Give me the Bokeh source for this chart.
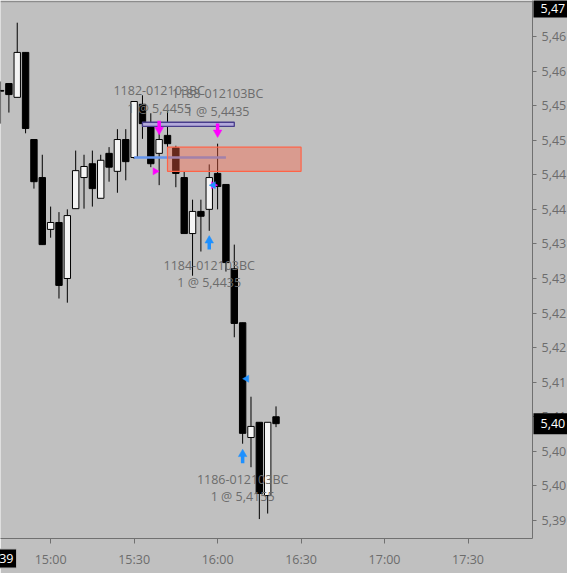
import numpy as np
import pandas as pd
from bokeh.plotting import figure
from bokeh.models import (ColumnDataSource, FixedTicker, DatetimeTickFormatter,
                          CustomJSTickFormatter, Label, Span, Range1d)
from bokeh.core.properties import value
from bokeh.embed import file_html
from bokeh.resources import INLINE

DAY = "2021-03-01 "

# ---------------- data ----------------
bar_times = ["14:42", "14:45", "14:48", "14:51", "14:54", "14:57", "15:00", "15:03",
             "15:06", "15:09", "15:12", "15:15", "15:18", "15:21", "15:24", "15:27",
             "15:30", "15:33", "15:36", "15:39", "15:42", "15:45", "15:48", "15:51",
             "15:54", "15:57", "16:00", "16:03", "16:06", "16:09", "16:12", "16:15",
             "16:18", "16:21"]
opens = [5.4572, 5.4582, 5.4562, 5.4627, 5.4501, 5.4446, 5.4371, 5.4381, 5.4300, 5.4401,
         5.4446, 5.4466, 5.4416, 5.4481, 5.4455, 5.4501, 5.4475, 5.4552, 5.4520, 5.4481,
         5.4507, 5.4489, 5.4446, 5.4365, 5.4397, 5.4400, 5.4452, 5.4436, 5.4314, 5.4236,
         5.4070, 5.4092, 5.3986, 5.4100]
highs = [5.4585, 5.4582, 5.4670, 5.4627, 5.4501, 5.4479, 5.4404, 5.4396, 5.4400, 5.4485,
         5.4479, 5.4485, 5.4479, 5.4490, 5.4516, 5.4516, 5.4556, 5.4565, 5.4539, 5.4513,
         5.4542, 5.4492, 5.4455, 5.4414, 5.4414, 5.4465, 5.4495, 5.4436, 5.4349, 5.4236,
         5.4129, 5.4092, 5.4092, 5.4115]
lows = [5.4524, 5.4540, 5.4562, 5.4510, 5.4430, 5.4349, 5.4359, 5.4271, 5.4265, 5.4401,
        5.4401, 5.4404, 5.4416, 5.4440, 5.4424, 5.4442, 5.4473, 5.4502, 5.4461, 5.4435,
        5.4490, 5.4432, 5.4365, 5.4304, 5.4339, 5.4369, 5.4400, 5.4310, 5.4215, 5.4061,
        5.4027, 5.3952, 5.3960, 5.4085]
closes = [5.4571, 5.4566, 5.4627, 5.4517, 5.4440, 5.4349, 5.4381, 5.4290, 5.4391, 5.4456,
          5.4462, 5.4430, 5.4471, 5.4461, 5.4501, 5.4469, 5.4556, 5.4524, 5.4466, 5.4501,
          5.4495, 5.4452, 5.4365, 5.4397, 5.4390, 5.4446, 5.4433, 5.4323, 5.4235, 5.4076,
          5.4086, 5.3989, 5.4092, 5.4090]

# trades
trade_ids = ["1182-012103BC", "1188-012103BC", "1184-012103BC", "1186-012103BC"]
trade_bars = ["15:39", "16:00", "15:57", "16:09"]
trade_sides = ["sell", "sell", "buy", "buy"]
trade_qty = [1, 1, 1, 1]
fill_prices = [5.4455, 5.4435, 5.4435, 5.4155]
signal_prices = [5.4508, 5.4504, 5.4362, 5.4053]

# zone / levels
zone_times = ["15:42", "16:30"]
zone_prices = [5.4455, 5.4490]
band_times = ["15:33", "16:06"]
band_prices = [5.4520, 5.4526]
line_times = ["15:30", "16:03"]
line_price = 5.4475

# tags
last_price_text = "5,40"
last_price = 5.4090
high_tag_text = "5,47"
high_tag_price = 5.4700
time_tag_text = "39"

x_tick_labels = ["15:00", "15:30", "16:00", "16:30", "17:00", "17:30"]
y_ticks = [5.395, 5.400, 5.405, 5.410, 5.415, 5.420, 5.425, 5.430, 5.435, 5.440,
           5.445, 5.450, 5.455, 5.460, 5.465]
y_tick_labels = ["5,39", "5,40", "5,40", "5,41", "5,41", "5,42", "5,42", "5,43", "5,43",
                 "5,44", "5,44", "5,45", "5,45", "5,46", "5,46"]

# ---------------- layout ----------------
BG = "#c0c0c0"
FONT = "Open Sans"
FS = "12.5px"
TXT = "#6c6c6c"
FRAME_W, FRAME_H = 532, 538
X0 = pd.Timestamp(DAY + "14:41:59")
X1 = pd.Timestamp(DAY + "17:53:10")
Y0, Y1 = 5.39239, 5.47021
ppx = (Y1 - Y0) / FRAME_H                       # price per pixel
msx = (X1 - X0).total_seconds() * 1000 / FRAME_W  # ms per pixel


def ts(s):
    return pd.Timestamp(DAY + s)


def ms(t):
    return t.value / 1e6


p = figure(x_axis_type="datetime", y_axis_location="right",
           frame_width=FRAME_W, frame_height=FRAME_H,
           x_range=Range1d(ms(X0), ms(X1)), y_range=Range1d(Y0, Y1),
           output_backend="svg", toolbar_location=None, min_border=0,
           min_border_right=35, min_border_bottom=35,
           background_fill_color=BG, border_fill_color=BG, outline_line_color=None)
p.grid.visible = False

# candles
t = [ts(s) for s in bar_times]
o = np.array(opens); c = np.array(closes)
src = ColumnDataSource(dict(
    t=t, h=highs, l=lows,
    top=np.maximum(o, c), bot=np.minimum(o, c),
    fill=np.where(c > o, "#f4f4f4", "black"),
))
p.segment(x0="t", y0="h", x1="t", y1="l", source=src, line_color="black", line_width=1)
p.vbar(x="t", width=2.3 * 60000, top="top", bottom="bot", fill_color="fill",
       line_color="black", line_width=1, source=src)

# level line
p.line(x=[ts(s) for s in line_times], y=[line_price, line_price],
       line_color="#6495ed", line_width=2.5)
# band
p.quad(left=[ts(band_times[0])], right=[ts(band_times[1])],
       bottom=[band_prices[0]], top=[band_prices[1]],
       fill_color="#b3aadb", line_color="#483d8b", line_width=1.3)
# zone
p.quad(left=[ts(zone_times[0])], right=[ts(zone_times[1])],
       bottom=[zone_prices[0]], top=[zone_prices[1]],
       fill_color="tomato", fill_alpha=0.4, line_color="tomato", line_width=1.2)

# trade arrows, fills, texts
HEAD = 8.5
h_tri = HEAD * np.sqrt(3) / 2
sh_x, sh_y0, sh_y1, hd_x, hd_y, hd_m, hd_c = [], [], [], [], [], [], []
fl_x, fl_y, fl_a, fl_c = [], [], [], []
tx_x, tx_y, tx_t = [], [], []
for tid, bar, side, q, fp, sp in zip(trade_ids, trade_bars, trade_sides, trade_qty,
                                     fill_prices, signal_prices):
    bt = ts(bar)
    sgn = 1 if side == "sell" else -1
    col = "#ff00ff" if side == "sell" else "#1e90ff"
    tail = sp + sgn * 14 * ppx
    base = sp + sgn * h_tri * ppx
    sh_x.append(bt); sh_y0.append(tail); sh_y1.append(base - sgn * 0.5 * ppx)
    hd_x.append(bt); hd_y.append(sp + sgn * (2 * h_tri / 3) * ppx)
    hd_m.append("inverted_triangle" if side == "sell" else "triangle"); hd_c.append(col)
    off = pd.Timedelta(milliseconds=0.577 * 7 * msx)
    fl_x.append(bt - off if side == "sell" else bt + off)
    fl_y.append(fp)
    fl_a.append(-np.pi / 2 if side == "sell" else np.pi / 2)
    fl_c.append(col)
    txt2 = f"{q} @ {fp:.4f}".replace(".", ",")
    if side == "sell":
        tx_x += [bt, bt]; tx_y += [tail + 30 * ppx, tail + 12 * ppx]
    else:
        tx_x += [bt, bt]; tx_y += [tail - 16 * ppx, tail - 33 * ppx]
    tx_t += [tid, txt2]

p.segment(x0=sh_x, y0=sh_y0, x1=sh_x, y1=sh_y1, line_color=hd_c, line_width=3.5)
p.scatter(x=hd_x, y=hd_y, marker=hd_m, size=HEAD, fill_color=hd_c, line_color=hd_c,
          line_width=0.5)
p.scatter(x=fl_x, y=fl_y, marker="triangle", angle=fl_a, size=7, fill_color=fl_c,
          line_color=fl_c, line_width=0.5)
p.text(x=tx_x, y=tx_y, text=tx_t, text_font=value(FONT), text_font_size=FS,
       text_color=TXT, text_align="center", text_baseline="middle")

# axes
xa = p.xaxis[0]
xa.ticker = FixedTicker(ticks=[ms(ts(s)) for s in x_tick_labels])
xa.formatter = DatetimeTickFormatter(minutes="%H:%M", hourmin="%H:%M", hours="%H:%M")
ya = p.yaxis[0]
ya.ticker = FixedTicker(ticks=y_ticks)
ya.formatter = CustomJSTickFormatter(
    args=dict(tv=y_ticks, tl=y_tick_labels),
    code="const i = tv.findIndex(v => Math.abs(v - tick) < 1e-7); return i >= 0 ? tl[i] : '';")
for ax in (xa, ya):
    ax.axis_line_color = "#707070"
    ax.axis_line_width = 1
    ax.major_tick_line_color = "#707070"
    ax.major_tick_in = 0
    ax.minor_tick_line_color = None
    ax.major_label_text_font = FONT
    ax.major_label_text_font_size = FS
    ax.major_label_text_color = TXT
xa.major_tick_out = 5
xa.major_label_standoff = 7
ya.major_tick_out = 4
ya.major_label_standoff = 5

p.add_layout(Span(location=Y1 - 1.2 * ppx, dimension="width", line_color="#808080",
                  line_width=1))

# tags (placed in side panels so that they are not clipped to the frame)
tag_kw = dict(text_color="white", text_font=FONT, text_font_size=FS,
              background_fill_color="black", text_baseline="middle",
              x_units="data", y_units="data")
p.add_layout(Label(x=ms(X1), y=last_price, x_offset=1, text=last_price_text,
                   text_align="left", padding=(7, 8, 6, 6), **tag_kw), "right")
p.add_layout(Label(x=ms(X1), y=high_tag_price, x_offset=1, y_offset=-7,
                   text=high_tag_text, text_align="left", padding=(7, 8, 4, 4),
                   **tag_kw), "right")
p.add_layout(Label(x=ms(X0), y=Y0, x_offset=16, y_offset=-20, text=time_tag_text,
                   text_align="right", padding=(6, 3, 5, 5),
                   border_line_color="#b0b0b0", **tag_kw), "below")

open("out.html", "w").write(file_html(p, INLINE))
